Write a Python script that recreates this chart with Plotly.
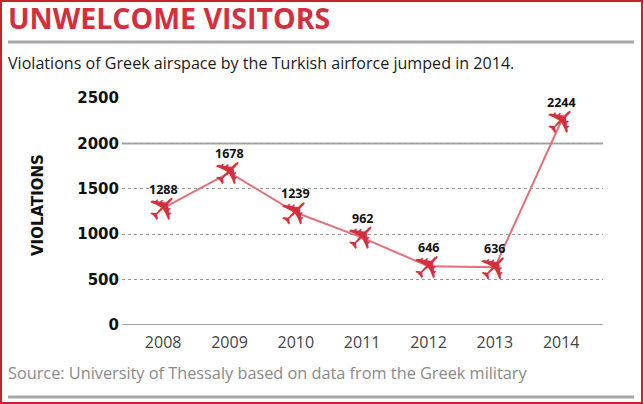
import plotly.graph_objects as go

# data
years = ["2008", "2009", "2010", "2011", "2012", "2013", "2014"]
violations = [1288, 1678, 1239, 962, 646, 636, 2244]
y_ticks = [0, 500, 1000, 1500, 2000, 2500]
solid_grid = [0, 2000]

title = "UNWELCOME VISITORS"
subtitle = "Violations of Greek airspace by the Turkish airforce jumped in 2014."
source = "Source: University of Thessaly based on data from the Greek military"

RED = "#d42f3e"
LINE_RED = "#e2707a"
GREY = "#a6a6a6"

W, H = 644, 404
L, R, T, B = 122, 41, 98, 79

x_idx = list(range(len(years)))


# pixel -> paper helpers for the decorations round the plot
def px_x(px):
    return (px - L) / (W - L - R)


def px_y(py):
    return (H - B - py) / (H - T - B)


fig = go.Figure()
fig.add_trace(
    go.Scatter(
        x=x_idx, y=violations, mode="lines",
        line=dict(color=LINE_RED, width=2),
        hoverinfo="skip", showlegend=False,
    )
)

annotations = []
# planes + value labels
for i, v in zip(x_idx, violations):
    annotations.append(dict(
        x=i, y=v, xref="x", yref="y", text="✈", showarrow=False,
        textangle=-45, font=dict(family="DejaVu Sans", size=37, color=RED),
        xanchor="center", yanchor="middle",
    ))
    annotations.append(dict(
        x=i, y=v, xref="x", yref="y", text=f"<b>{v}</b>", showarrow=False,
        yshift=19, font=dict(family="Open Sans", size=12.5, color="#111"),
        xanchor="center", yanchor="middle",
    ))

annotations += [
    dict(x=px_x(6), y=px_y(18), xref="paper", yref="paper", text=f"<b>{title}</b>",
         showarrow=False, xanchor="left", yanchor="middle",
         font=dict(family="Open Sans", size=28.5, color=RED)),
    dict(x=px_x(6), y=px_y(63), xref="paper", yref="paper", text=subtitle,
         showarrow=False, xanchor="left", yanchor="middle",
         font=dict(family="Open Sans", size=16.1, color="#1a1a1a")),
    dict(x=px_x(6), y=px_y(373), xref="paper", yref="paper", text=source,
         showarrow=False, xanchor="left", yanchor="middle",
         font=dict(family="Open Sans", size=16.3, color="#8a8a8a")),
    dict(x=px_x(38), y=px_y(205), xref="paper", yref="paper", text="<b>VIOLATIONS</b>",
         showarrow=False, textangle=-90, xanchor="center", yanchor="middle",
         font=dict(family="DejaVu Sans", size=15, color="#111")),
]

shapes = []
for g in solid_grid:
    shapes.append(dict(type="line", xref="paper", yref="y", x0=0, x1=1, y0=g, y1=g,
                       line=dict(color=GREY, width=2), layer="below"))
# separators and frame
for py in (42, 397):
    shapes.append(dict(type="line", xref="paper", yref="paper",
                       x0=px_x(8), x1=px_x(634), y0=px_y(py), y1=px_y(py),
                       line=dict(color=GREY, width=3)))
shapes.append(dict(type="rect", xref="paper", yref="paper",
                   x0=px_x(1), x1=px_x(642), y0=px_y(1), y1=px_y(403),
                   line=dict(color="#c4222d", width=2)))

fig.update_layout(
    width=W, height=H,
    margin=dict(l=L, r=R, t=T, b=B),
    paper_bgcolor="white", plot_bgcolor="white",
    annotations=annotations, shapes=shapes,
    showlegend=False,
)
fig.update_xaxes(
    range=[-0.62, 6.63], tickvals=x_idx, ticktext=years,
    showgrid=False, zeroline=False, showline=False, ticks="", ticklabelstandoff=6,
    tickfont=dict(family="Open Sans", size=16, color="#444"),
)
fig.update_yaxes(
    range=[0, 2500], tickvals=y_ticks, showgrid=True, griddash="dot",
    gridcolor="#9a9a9a", gridwidth=1, zeroline=False, showline=False,
    ticks="", ticklabelstandoff=2,
    tickfont=dict(family="DejaVu Sans", size=15, color="#111", weight="bold"),
)

fig.write_html("out.html", config={"displayModeBar": False},
               post_script="document.body.style.margin='0';")
